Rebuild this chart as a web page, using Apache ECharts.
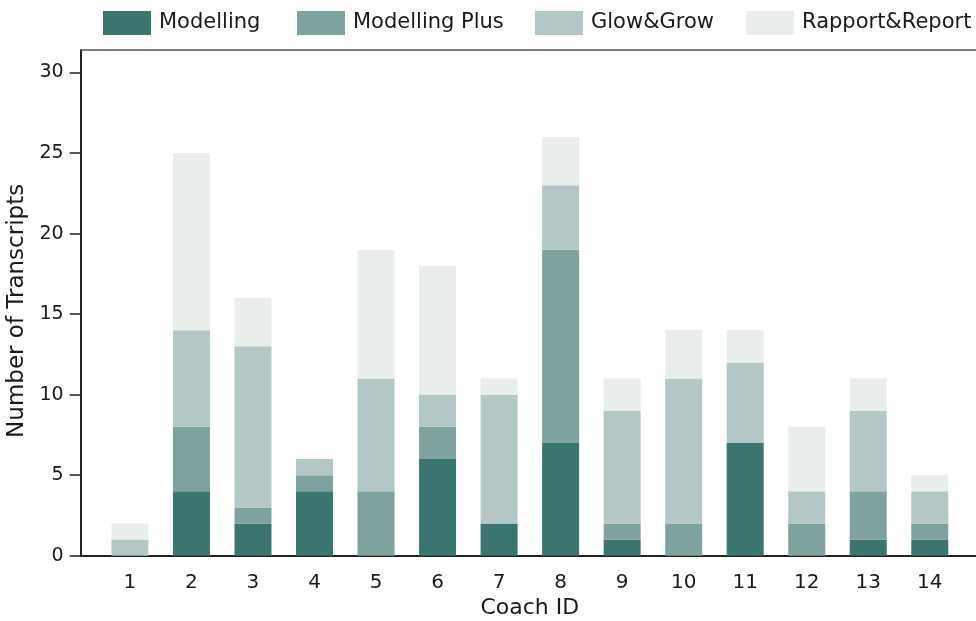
<!DOCTYPE html>
<html><head><meta charset="utf-8">
<script src="https://cdn.jsdelivr.net/npm/echarts@6/dist/echarts.min.js"></script>
<style>html,body{margin:0;padding:0;background:#fff}#c{width:976px;height:621px}</style>
</head><body><div id="c"></div>
<script>
const coaches = [1,2,3,4,5,6,7,8,9,10,11,12,13,14];
const modelling     = [0,4,2,4,0,6,2,7,1,0,7,0,1,1];
const modellingPlus = [0,4,1,1,4,2,0,12,1,2,0,2,3,1];
const glowGrow      = [1,6,10,1,7,2,8,4,7,9,5,2,5,2];
const rapportReport = [1,11,3,0,8,8,1,3,2,3,2,4,2,1];
const yTicks = [0,5,10,15,20,25,30];
const seriesNames = ['Modelling','Modelling Plus','Glow&Grow','Rapport&Report'];
const colors = ['#3b7570','#7ea39e','#b3c8c6','#e9eeed'];
const font = '"DejaVu Sans", sans-serif';
const txt = '#1a1a1a';

// frame geometry (px)
const L = 80.7, T = 50, B = 65.3, W = 898.3;
const XMIN = 0.2, XMAX = 14.8, YMAX = 31.4;
const unit = W / (XMAX - XMIN);
const legendLefts = [98, 292, 530, 741];

const chart = echarts.init(document.getElementById('c'), null, {renderer:'canvas'});
const mk = (name, vals, i) => ({
  name, type:'bar', stack:'total', barWidth:37,
  xAxisIndex:2, yAxisIndex:1,
  data: vals,
  itemStyle:{color:colors[i]}, emphasis:{disabled:true}
});
chart.setOption({
  animation:false,
  color: colors,
  textStyle:{fontFamily:font},
  legend: seriesNames.map((n,i)=>({
    left:legendLefts[i], top:6, itemWidth:48, itemHeight:24, itemGap:0,
    icon:'rect', selectedMode:false,
    textStyle:{fontFamily:font, fontSize:21, color:txt, padding:[0,0,0,3]},
    data:[n]
  })),
  grid:[
    {left:L, top:T, width:W, bottom:B, containLabel:false, outerBoundsMode:'none'},
    {left:L + (0.5 - XMIN) * unit, top:T, width:14 * unit, bottom:B, containLabel:false, outerBoundsMode:'none'}
  ],
  xAxis:[{
    gridIndex:0, type:'value', min:XMIN, max:XMAX,
    axisLine:{show:true, lineStyle:{color:'#222', width:2}},
    axisTick:{show:false},
    splitLine:{show:false},
    axisLabel:{customValues:coaches, fontFamily:font, fontSize:20, color:txt, margin:17},
    name:'Coach ID', nameLocation:'middle', nameGap:41,
    nameTextStyle:{fontFamily:font, fontSize:22, color:txt}
  },{
    gridIndex:0, type:'value', position:'top', min:0, max:1,
    axisLine:{show:true, lineStyle:{color:'#555', width:1.5}},
    axisTick:{show:false}, axisLabel:{show:false}, splitLine:{show:false}
  },{
    gridIndex:1, type:'category', data:coaches, boundaryGap:true,
    axisLine:{show:false}, axisTick:{show:false}, axisLabel:{show:false}, splitLine:{show:false}
  }],
  yAxis:[{
    gridIndex:0, type:'value', min:0, max:YMAX,
    axisLine:{show:true, lineStyle:{color:'#222', width:2}},
    axisTick:{show:true, customValues:yTicks, length:11, lineStyle:{color:'#222', width:1.5}},
    splitLine:{show:false},
    axisLabel:{customValues:yTicks, fontFamily:font, fontSize:19, color:txt, margin:17},
    name:'Number of Transcripts', nameLocation:'middle', nameGap:52,
    nameTextStyle:{fontFamily:font, fontSize:23, color:txt, padding:[0,16,0,0]}
  },{
    gridIndex:1, type:'value', min:0, max:YMAX, show:false
  }],
  series:[
    mk(seriesNames[0], modelling, 0),
    mk(seriesNames[1], modellingPlus, 1),
    mk(seriesNames[2], glowGrow, 2),
    mk(seriesNames[3], rapportReport, 3)
  ]
});
</script></body></html>
